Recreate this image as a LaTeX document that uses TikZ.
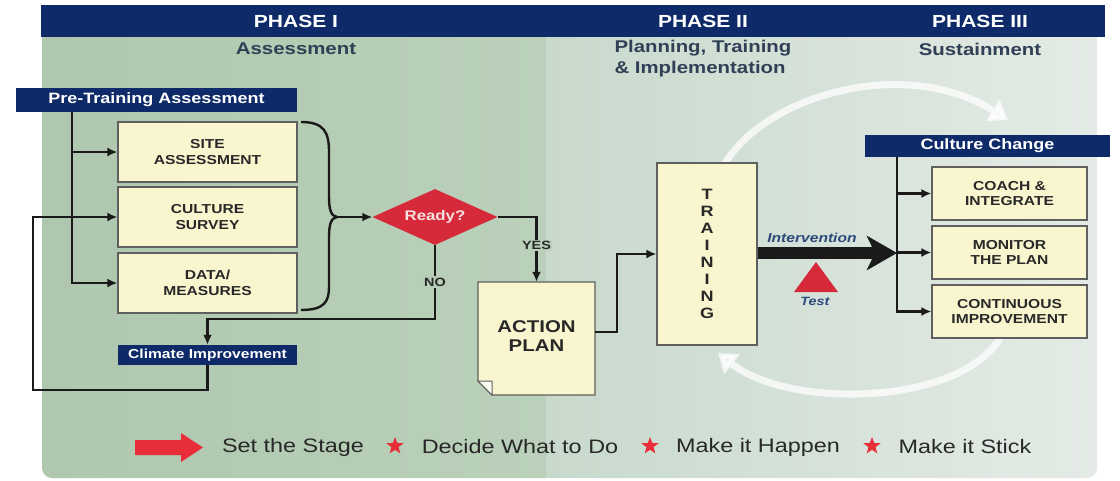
\documentclass[tikz,border=0pt]{standalone}
\usepackage{fontspec}
\setmainfont{Liberation Sans}[FakeStretch=1.2]
\usetikzlibrary{arrows.meta,shapes.geometric}
\definecolor{navy}{RGB}{14,42,104}
\definecolor{boxfill}{RGB}{249,245,207}
\definecolor{boxline}{RGB}{95,95,95}
\definecolor{dred}{RGB}{214,42,58}
\definecolor{lred}{RGB}{232,46,56}
\definecolor{subcol}{RGB}{48,64,86}
\definecolor{ivcol}{RGB}{44,74,124}
\definecolor{txtdark}{RGB}{40,40,40}
\definecolor{lineblk}{RGB}{26,26,26}
\definecolor{bgA}{RGB}{174,199,174}
\definecolor{bgB}{RGB}{186,208,186}
\definecolor{bgC}{RGB}{200,217,204}
\definecolor{bgD}{RGB}{228,235,230}
\definecolor{noBg}{RGB}{183,205,183}
\definecolor{yesBg}{RGB}{186,208,186}
\begin{document}
\begin{tikzpicture}[x=1pt,y=-1pt,
  bar/.style={fill=navy, text=white, inner sep=0pt},
  hdrtxt/.style={text=white, font=\fontsize{17.5}{20}\selectfont\bfseries},
  subtxt/.style={text=subcol, font=\fontsize{17}{21}\selectfont\bfseries},
  box/.style={draw=boxline, line width=1.2pt, fill=boxfill, align=center, text=txtdark,
     inner sep=0pt, font=\fontsize{13}{15.5}\selectfont\bfseries},
  conn/.style={line width=2.4pt, draw=lineblk},
  arr/.style={conn, -{Latex[length=10pt,width=9pt]}},
  lbl/.style={font=\fontsize{12}{14}\selectfont\bfseries, text=txtdark, inner sep=1.5pt},
  leg/.style={font=\fontsize{19.5}{22}\selectfont, text=txtdark},
  legstar/.style={star, star points=5, star point ratio=2.4, fill=lred, minimum size=18pt, inner sep=0pt},
  itl/.style={font=\fontsize{13}{15}\selectfont\bfseries\itshape, text=ivcol},
  arc/.style={white, opacity=0.75, line width=7pt}
]
\useasboundingbox (0,0) rectangle (1120,480);
\fill[white] (0,0) rectangle (1120,480);

% background panel
\begin{scope}
  \clip[rounded corners=10pt] (42,20) rectangle (1097,478);
  \shade[left color=bgA, right color=bgB] (42,20) rectangle (546,478);
  \shade[left color=bgC, right color=bgD] (546,20) rectangle (1097,478);
\end{scope}

% header
\node[bar, minimum width=1064, minimum height=32] (hdr) at (573,21) {};
\node[hdrtxt] (p1) at (296,21) {PHASE I};
\node[hdrtxt] (p2) at (703,21) {PHASE II};
\node[hdrtxt] (p3) at (980,21) {PHASE III};
\node[subtxt] (s1) at (296,49) {Assessment};
\node[subtxt, align=left, anchor=west] (s2) at (611,59) {Planning, Training\\\& Implementation};
\node[subtxt] (s3) at (980,49) {Sustainment};

% white cycle arcs
\draw[arc, -{Triangle[length=18pt,width=24pt]}] (724,165) .. controls (765,95) and (905,55) .. (1008,120);
\draw[arc, -{Triangle[length=18pt,width=24pt]}] (1000,338) .. controls (960,405) and (790,410) .. (718,353);

% Phase I
\node[bar, minimum width=281, minimum height=24, font=\fontsize{15}{17}\selectfont\bfseries] (pta) at (156.5,100) {Pre-Training Assessment};
\node[box, minimum width=179, minimum height=60] (site) at (207.5,152) {SITE\\ASSESSMENT};
\node[box, minimum width=179, minimum height=60] (culture) at (207.5,217) {CULTURE\\SURVEY};
\node[box, minimum width=179, minimum height=60] (data) at (207.5,283) {DATA/\\MEASURES};
\node[bar, minimum width=179, minimum height=20, font=\fontsize{13}{15}\selectfont\bfseries] (clim) at (207.5,355) {Climate Improvement};

\draw[arr] ([xshift=56pt]pta.south west) |- (site.west);
\draw[arr] ([xshift=56pt]pta.south west) |- (data.west);
\draw[arr] (clim.south) |- ++(-174.5,25) |- (culture.west);

% brace
\draw[line width=2.4pt, lineblk] (301,122) .. controls (324,122) and (329,132) .. (329,152) -- (329,196)
   .. controls (329,210) and (331,216) .. (337,217) .. controls (331,218) and (329,224) .. (329,238)
   -- (329,287) .. controls (329,302) and (324,310) .. (301,310);
\coordinate (btip) at (337,217);

\node[diamond, fill=dred, minimum width=125, minimum height=56, aspect=2.2, inner sep=1pt,
      text={rgb,255:red,245;green,225;blue,225}, font=\fontsize{14}{16}\selectfont\bfseries] (ready) at (435,217) {Ready?};
\draw[arr] (btip) -- (ready.west);

% Phase II
\filldraw[fill=boxfill, draw=boxline, line width=1.2pt] (478,282) -- (595,282) -- (595,395) -- (492,395) -- (478,381) -- cycle;
\filldraw[fill={rgb,255:red,252;green,251;blue,240}, draw=boxline, line width=1pt] (478,381) -- (492,381) -- (492,395) -- cycle;
\node[align=center, text=txtdark, minimum width=117, minimum height=113, inner sep=0pt,
      font=\fontsize{17}{19}\selectfont\bfseries] (ap) at (536.5,336) {ACTION\\PLAN};

\draw[arr] (ready.east) -| node[lbl, fill=yesBg, pos=0.72] {YES} ([yshift=-2.5pt]ap.north);
\draw[arr] (ready.south) -- node[lbl, fill=noBg] {NO} ++(0,74) -| (clim.north);

\node[box, minimum width=100, minimum height=182, font=\fontsize{15}{16.9}\selectfont\bfseries] (tr) at (707,254) {T\\R\\A\\I\\N\\I\\N\\G};
\draw[arr] ([yshift=4pt]ap.east) -- ++(22,0) |- (tr.west);

% Phase III
\node[bar, minimum width=245, minimum height=22, font=\fontsize{15}{17}\selectfont\bfseries] (cc) at (987.5,146) {Culture Change};
\node[box, minimum width=155, minimum height=53] (coach) at (1009.5,193.5) {COACH \&\\INTEGRATE};
\node[box, minimum width=155, minimum height=53] (monitor) at (1009.5,252.5) {MONITOR\\THE PLAN};
\node[box, minimum width=155, minimum height=53] (cont) at (1009.5,311.5) {CONTINUOUS\\IMPROVEMENT};
\coordinate (ccj) at ([xshift=32pt]cc.south west);
\draw[arr] (ccj) |- (coach.west);
\draw[arr] (ccj) |- (monitor.west);
\draw[arr] (ccj) |- (cont.west);

\coordinate (bigtip) at (897,253);
\draw[line width=12pt, lineblk, -{Stealth[length=30pt,width=34pt,inset=8pt]}] (tr.east |- bigtip) -- (bigtip);
\node[itl] (iv) at (812,238) {Intervention};
\fill[dred] (816,262) -- (838,292) -- (794,292) -- cycle;
\node[itl, font=\fontsize{12}{14}\selectfont\bfseries\itshape] (test) at (815,301) {Test};

% legend
\fill[lred] (135,440) -- (181,440) -- (181,433) -- (203,447.5) -- (181,462) -- (181,455) -- (135,455) -- cycle;
\node[leg] (l1) at (293,447) {Set the Stage};
\node[legstar] (st1) at (395,446) {};
\node[leg] (l2) at (520,447) {Decide What to Do};
\node[legstar] (st2) at (650,446) {};
\node[leg] (l3) at (758,447) {Make it Happen};
\node[legstar] (st3) at (872,446) {};
\node[leg] (l4) at (965,447) {Make it Stick};
\end{tikzpicture}
\end{document}
